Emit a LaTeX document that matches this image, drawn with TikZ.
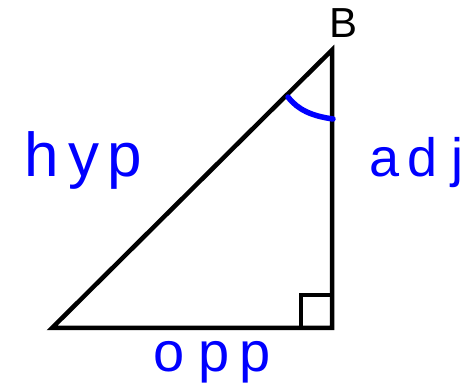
\documentclass[tikz,border=0pt]{standalone}
\usepackage{fontspec}
\setmainfont{Liberation Sans}
\begin{document}
\begin{tikzpicture}[x=1pt,y=-1pt,
  edge/.style={line width=4.5pt, line join=miter},
  ink/.style={text=blue, inner sep=0pt},
  lbl/.style={inner sep=0pt}]
\useasboundingbox (0,0) rectangle (472,385);
\coordinate (A) at (52,328);
\coordinate (C) at (332,328);
\coordinate (Bv) at (332,50);
\draw[edge] (A) -- (C) -- (Bv) -- cycle;
\draw[line width=4.5pt] (332,295) -- (301,295) -- (301,328);
\node[lbl, font=\fontsize{42}{42}\selectfont] (B) at (344,23) {B};
\coordinate (a1) at (288,97);
\coordinate (a2) at (333,119);
\draw[blue, line width=5.5pt, line cap=round] (a1) .. controls (298,110) and (312,116) .. (a2);
\node[ink, font=\fontsize{62}{62}\selectfont] (hyp) at (83,160) {h\hspace{10pt}y\hspace{8pt}p};
\node[ink, font=\fontsize{54}{54}\selectfont] (adj) at (417,163) {a\hspace{8pt}d\hspace{14pt}j};
\node[ink, font=\fontsize{56}{56}\selectfont] (opp) at (212,362) {o\hspace{14pt}p\hspace{10pt}p};
\end{tikzpicture}
\end{document}
